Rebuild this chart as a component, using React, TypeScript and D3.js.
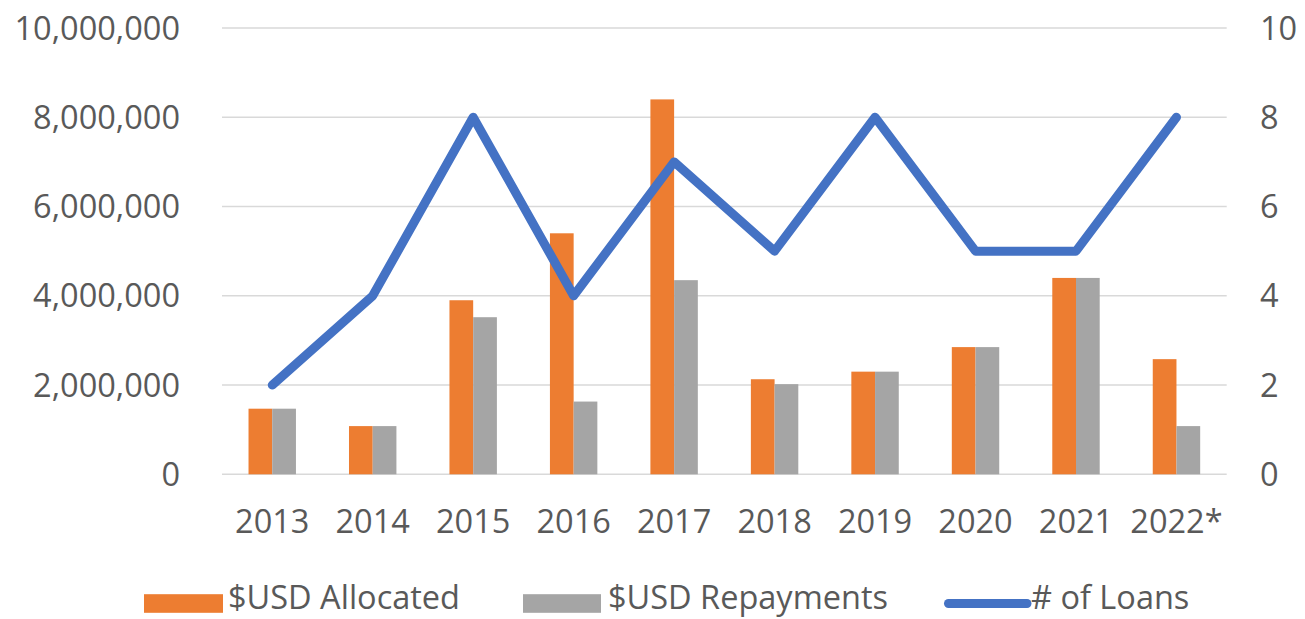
import React from "react";
import * as d3 from "d3";

const years = ["2013", "2014", "2015", "2016", "2017", "2018", "2019", "2020", "2021", "2022*"];
const allocated = [1470000, 1080000, 3900000, 5400000, 8400000, 2130000, 2300000, 2850000, 4400000, 2580000];
const repayments = [1470000, 1080000, 3520000, 1630000, 4350000, 2020000, 2300000, 2850000, 4400000, 1080000];
const loans = [2, 4, 8, 4, 7, 5, 8, 5, 5, 8];
const leftTicks = [0, 2000000, 4000000, 6000000, 8000000, 10000000];
const rightTicks = [0, 2, 4, 6, 8, 10];
const seriesNames = ["$USD Allocated", "$USD Repayments", "# of Loans"];

const W = 1305;
const H = 619;
const ORANGE = "#ED7D31";
const GRAY = "#A5A5A5";
const BLUE = "#4472C4";
const TEXT = "#595959";
const FONT = "'Open Sans', 'DejaVu Sans', sans-serif";
const FS = 32.5;

export default function App() {
  const x = d3.scaleBand<string>().domain(years).range([222, 1226.7]).padding(0);
  const yL = d3.scaleLinear().domain([0, 10000000]).range([474.3, 28]);
  const yR = d3.scaleLinear().domain([0, 10]).range([474.3, 28]);
  const bw = x.bandwidth() * 0.236;
  const cx = (y: string) => (x(y) as number) + x.bandwidth() / 2;
  const fmt = d3.format(",");
  const line = d3
    .line<number>()
    .x((_, i) => cx(years[i]))
    .y((d) => yR(d));

  const legendY = 603.5;
  const legendBase = 609;

  return (
    <svg
      width={W}
      height={H}
      style={{ position: "absolute", left: 0, top: 0, background: "#fff" }}
      fontFamily={FONT}
    >
      <rect x={0} y={0} width={W} height={H} fill="#fff" />
      {leftTicks.map((t) => (
        <line key={"g" + t} x1={222} x2={1226.7} y1={yL(t)} y2={yL(t)} stroke="#D9D9D9" strokeWidth={1.5} />
      ))}
      {leftTicks.map((t) => (
        <text key={"l" + t} x={180} y={yL(t)} dy="0.36em" textAnchor="end" fontSize={FS} fill={TEXT}>
          {fmt(t)}
        </text>
      ))}
      {rightTicks.map((t) => (
        <text key={"r" + t} x={1260} y={yR(t)} dy="0.36em" textAnchor="start" fontSize={FS} fill={TEXT}>
          {t}
        </text>
      ))}
      {years.map((yr, i) => (
        <g key={yr}>
          <rect x={cx(yr) - bw} y={yL(allocated[i])} width={bw} height={yL(0) - yL(allocated[i])} fill={ORANGE} />
          <rect x={cx(yr)} y={yL(repayments[i])} width={bw} height={yL(0) - yL(repayments[i])} fill={GRAY} />
          <text x={cx(yr)} y={533} textAnchor="middle" fontSize={FS} fill={TEXT}>
            {yr}
          </text>
        </g>
      ))}
      <path d={line(loans) || ""} fill="none" stroke={BLUE} strokeWidth={9} strokeLinejoin="round" strokeLinecap="round" />
      {/* legend */}
      <rect x={144} y={legendY - 9.3} width={79} height={18.6} fill={ORANGE} />
      <text x={228} y={legendBase} fontSize={FS} fill={TEXT}>
        {seriesNames[0]}
      </text>
      <rect x={523} y={legendY - 9.3} width={78} height={18.6} fill={GRAY} />
      <text x={608} y={legendBase} fontSize={FS} fill={TEXT}>
        {seriesNames[1]}
      </text>
      <line x1={948.5} x2={1027} y1={legendY} y2={legendY} stroke={BLUE} strokeWidth={9} strokeLinecap="round" />
      <text x={1031} y={legendBase} fontSize={FS} fill={TEXT}>
        {seriesNames[2]}
      </text>
    </svg>
  );
}
